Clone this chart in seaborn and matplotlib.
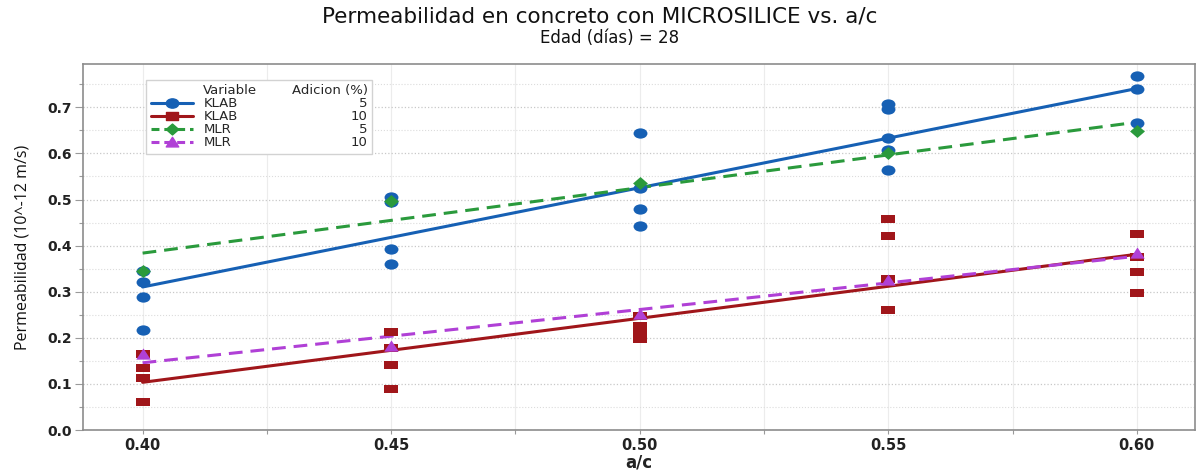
import matplotlib
matplotlib.use("Agg")
import matplotlib.pyplot as plt
from matplotlib.path import Path
from matplotlib.lines import Line2D
from matplotlib.ticker import MultipleLocator, FormatStrFormatter
import numpy as np
import pandas as pd
import seaborn as sns

# Water/cement ratio (a/c) and measured permeability (10^-12 m/s), age 28 days
klab5_ac = [0.40, 0.40, 0.40, 0.40, 0.45, 0.45, 0.45, 0.45, 0.50, 0.50,
            0.50, 0.50, 0.55, 0.55, 0.55, 0.55, 0.55, 0.60, 0.60, 0.60]
klab5_perm = [0.345, 0.321, 0.289, 0.218, 0.505, 0.495, 0.393, 0.361, 0.645, 0.526,
              0.480, 0.442, 0.708, 0.697, 0.634, 0.607, 0.565, 0.769, 0.739, 0.665]

klab10_ac = [0.40, 0.40, 0.40, 0.40, 0.45, 0.45, 0.45, 0.45, 0.50, 0.50, 0.50,
             0.50, 0.50, 0.55, 0.55, 0.55, 0.55, 0.60, 0.60, 0.60, 0.60]
klab10_perm = [0.165, 0.135, 0.112, 0.061, 0.213, 0.178, 0.142, 0.089, 0.248, 0.225, 0.215,
               0.205, 0.197, 0.457, 0.420, 0.327, 0.260, 0.425, 0.376, 0.342, 0.298]

mlr5_ac = [0.40, 0.45, 0.50, 0.55, 0.60]
mlr5_perm = [0.346, 0.497, 0.536, 0.601, 0.649]

mlr10_ac = [0.40, 0.45, 0.50, 0.55, 0.60]
mlr10_perm = [0.165, 0.183, 0.251, 0.325, 0.383]

variables = ["KLAB", "KLAB", "MLR", "MLR"]
adiciones = ["5", "10", "5", "10"]
x_ticks = [0.40, 0.45, 0.50, 0.55, 0.60]

sns.set_theme(style="white")
plt.rcParams["font.family"] = ["DejaVu Sans"]

# Slightly wide marker shapes
circ = Path.unit_circle()
ellipse = Path(circ.vertices * np.array([1.35, 1.0]), circ.codes)
C = [Path.MOVETO, Path.LINETO, Path.LINETO, Path.LINETO, Path.CLOSEPOLY]
rect = Path([(-1.45, -1), (1.45, -1), (1.45, 1), (-1.45, 1), (-1.45, -1)], C)
diamond = Path([(0, -1), (1.15, 0), (0, 1), (-1.15, 0), (0, -1)], C)
triangle = Path([(-1.2, -0.85), (1.2, -0.85), (0, 1.0), (-1.2, -0.85)],
                [Path.MOVETO, Path.LINETO, Path.LINETO, Path.CLOSEPOLY])

frames = [
    pd.DataFrame({"ac": klab5_ac, "perm": klab5_perm}),
    pd.DataFrame({"ac": klab10_ac, "perm": klab10_perm}),
    pd.DataFrame({"ac": mlr5_ac, "perm": mlr5_perm}),
    pd.DataFrame({"ac": mlr10_ac, "perm": mlr10_perm}),
]
colors = ["#1660b4", "#a0161a", "#2a9a3c", "#b040d6"]
markers = [ellipse, rect, diamond, triangle]
sizes = [100, 88, 115, 110]
dashed = [False, False, True, True]

fig = plt.figure(figsize=(11.97, 4.76), dpi=100, facecolor="white")
ax = fig.add_axes([0.0693, 0.0966, 0.9290, 0.7689])
ax.set_facecolor("white")

for df, c, mk, s, d in zip(frames, colors, markers, sizes, dashed):
    lk = dict(lw=2.2, zorder=2)
    if d:
        lk.update(ls="--", dashes=(4.5, 2.6))
    sns.regplot(data=df, x="ac", y="perm", ax=ax, ci=None, color=c, marker=mk,
                scatter_kws=dict(s=s, linewidths=0, alpha=1, zorder=3),
                line_kws=lk)

ax.set_xlim(0.388, 0.6117)
ax.set_ylim(0.0, 0.794)
ax.set_xticks(x_ticks)
ax.xaxis.set_major_formatter(FormatStrFormatter("%.2f"))
ax.xaxis.set_minor_locator(MultipleLocator(0.025))
ax.yaxis.set_major_locator(MultipleLocator(0.1))
ax.yaxis.set_major_formatter(FormatStrFormatter("%.1f"))
ax.yaxis.set_minor_locator(MultipleLocator(0.05))

ax.grid(which="major", axis="y", ls=":", color="#c8c8c8", lw=0.9)
ax.grid(which="minor", axis="y", ls=":", color="#dcdcdc", lw=0.8)
ax.grid(which="both", axis="x", ls="-", color="#ececec", lw=0.8)
ax.set_axisbelow(True)

for sp in ax.spines.values():
    sp.set_color("#8c8c8c")
    sp.set_linewidth(1.2)

ax.tick_params(axis="both", which="both", bottom=True, left=True, color="#9a9a9a", width=0.8)
ax.tick_params(axis="y", which="major", length=6, pad=2, labelsize=10, labelcolor="#222222")
ax.tick_params(axis="y", which="minor", length=3)
ax.tick_params(axis="x", which="major", length=3, pad=2.5, labelsize=10.5, labelcolor="#222222")
ax.tick_params(axis="x", which="minor", length=3)
for lab in ax.get_xticklabels() + ax.get_yticklabels():
    lab.set_fontweight("bold")

ax.set_xlabel("a/c", fontsize=12, fontweight="bold", color="#222222")
ax.xaxis.set_label_coords(0.5, -0.063)
ax.set_ylabel("Permeabilidad (10^-12 m/s)", fontsize=11.5, color="#111111",
              family=["Open Sans", "DejaVu Sans"])
ax.yaxis.set_label_coords(-0.047, 0.5)

fig.text(0.501, 0.965, "Permeabilidad en concreto con MICROSILICE vs. a/c",
         ha="center", va="center", fontsize=15.5, color="#111111")
fig.text(0.509, 0.920, "Edad (días) = 28", ha="center", va="center",
         fontsize=12, color="#111111")

# Legend laid out as a small table: Variable | Adicion (%)
blank = Line2D([], [], lw=0, marker=None)
handles = [blank]
for c, mk, d in zip(colors, markers, dashed):
    handles.append(Line2D([], [], color=c, lw=2.2, ls="--" if d else "-",
                          dashes=(2.6, 1.6) if d else (None, None),
                          marker=mk, markersize=9))
handles += [blank] * 5
labels = ["Variable"] + variables + ["Adicion (%)"] + adiciones
leg = ax.legend(handles, labels, ncol=2, loc="upper left", bbox_to_anchor=(0.057, 0.956),
                frameon=True, fancybox=False, edgecolor="#d2d2d2", framealpha=1,
                fontsize=9.5, handlelength=3.2, handletextpad=0.8, columnspacing=-1.4,
                labelspacing=0.0, borderpad=0.32, borderaxespad=0)
leg.get_frame().set_linewidth(1.0)
leg._legend_handle_box.get_children()[1].align = "right"

fig.savefig("out.png", dpi=100, facecolor="white")
